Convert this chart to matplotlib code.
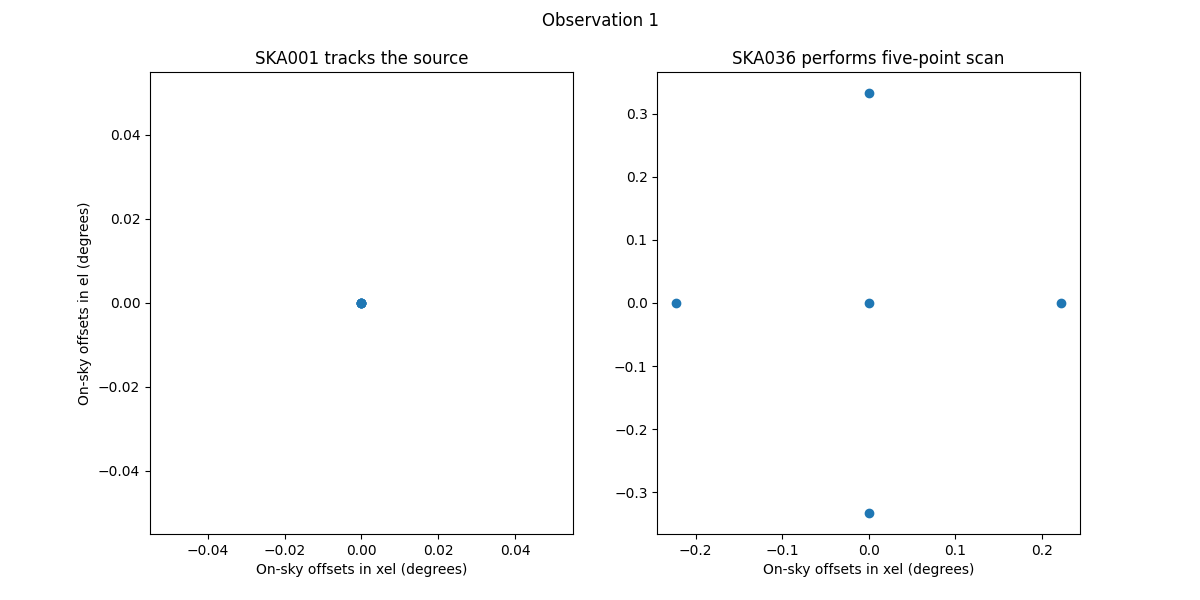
import matplotlib
matplotlib.use("Agg")
import matplotlib.pyplot as plt

# offsets in degrees
ska001_xel = [0.0, 0.0, 0.0, 0.0, 0.0]
ska001_el = [0.0, 0.0, 0.0, 0.0, 0.0]

ska036_xel = [0.0, -0.222, 0.222, 0.0, 0.0]
ska036_el = [0.0, 0.0, 0.0, 0.333, -0.333]

fig, (ax1, ax2) = plt.subplots(1, 2, figsize=(12, 6))
fig.suptitle("Observation 1")

ax1.scatter(ska001_xel, ska001_el)
ax1.set_title("SKA001 tracks the source")
ax1.set_xlabel("On-sky offsets in xel (degrees)")
ax1.set_ylabel("On-sky offsets in el (degrees)")

ax2.scatter(ska036_xel, ska036_el)
ax2.set_title("SKA036 performs five-point scan")
ax2.set_xlabel("On-sky offsets in xel (degrees)")

fig.savefig("out.png", dpi=100)
